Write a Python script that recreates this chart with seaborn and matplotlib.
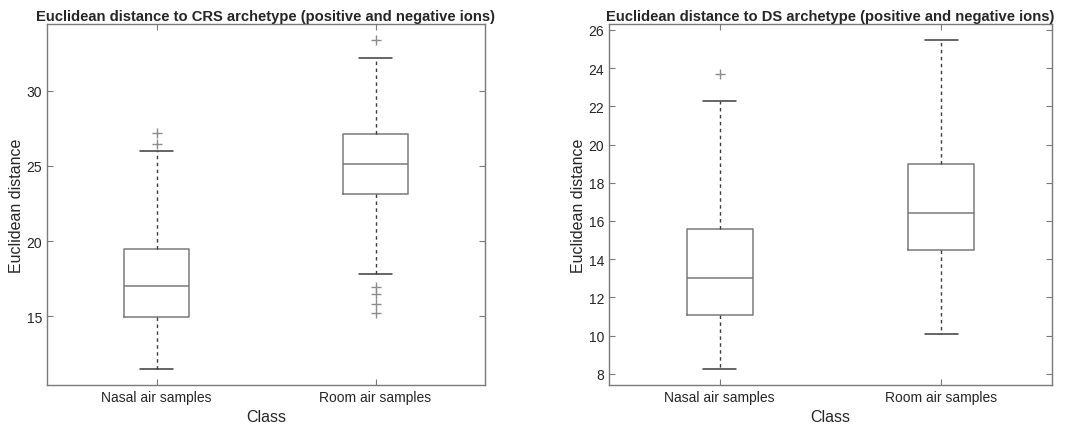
import numpy as np
import pandas as pd
import matplotlib
matplotlib.use("Agg")
import matplotlib.pyplot as plt
import seaborn as sns

# Box statistics (Nasal, Room)
classes = ["Nasal air samples", "Room air samples"]

crs_whisker_lo = [11.52, 17.78]
crs_q1 = [14.95, 23.10]
crs_median = [16.99, 25.09]
crs_q3 = [19.47, 27.15]
crs_whisker_hi = [25.99, 32.15]
crs_outliers = [[26.44, 27.20], [33.35, 16.95, 16.50, 15.82, 15.24]]

ds_whisker_lo = [8.26, 10.07]
ds_q1 = [11.05, 14.48]
ds_median = [13.03, 16.42]
ds_q3 = [15.56, 18.97]
ds_whisker_hi = [22.27, 25.46]
ds_outliers = [[23.71], []]

grey = "#7a7a7a"
dark = "#3c3c3c"


def sample_for_box(lo, q1, med, q3, hi, outliers):
    # values arranged so the quartiles / whiskers land on the read stats
    low = sorted(v for v in outliers if v < q1)
    high = sorted(v for v in outliers if v > q3)
    k = max(len(low), len(high)) + 1
    vals = list(low) + [lo] + [q1] * (k - len(low))
    vals += [med] * k + [q3] * k
    vals += [hi] * (k - len(high)) + list(high)
    return vals


def build_frame(lo, q1, med, q3, hi, outl):
    rows = []
    for i, c in enumerate(classes):
        for v in sample_for_box(lo[i], q1[i], med[i], q3[i], hi[i], outl[i]):
            rows.append({"Class": c, "Euclidean distance": v})
    return pd.DataFrame(rows)


crs_df = build_frame(crs_whisker_lo, crs_q1, crs_median, crs_q3, crs_whisker_hi, crs_outliers)
ds_df = build_frame(ds_whisker_lo, ds_q1, ds_median, ds_q3, ds_whisker_hi, ds_outliers)

sns.set_style("white")
plt.rcParams["font.family"] = ["Liberation Sans", "DejaVu Sans"]

fig = plt.figure(figsize=(10.85, 4.27), dpi=100)
ax1 = fig.add_axes([47 / 1085, 1 - 386 / 427, 438 / 1085, 361 / 427])
ax2 = fig.add_axes([609 / 1085, 1 - 386 / 427, 443 / 1085, 361 / 427])

panels = [
    (ax1, crs_df, "Euclidean distance to CRS archetype (positive and negative ions)",
     (10.43, 34.43), [15, 20, 25, 30]),
    (ax2, ds_df, "Euclidean distance to DS archetype (positive and negative ions)",
     (7.41, 26.31), list(range(8, 27, 2))),
]

for ax, df, title, ylim, yticks in panels:
    sns.boxplot(
        data=df, x="Class", y="Euclidean distance", ax=ax,
        width=0.3, whis=1.5, fill=False, color=grey,
        boxprops=dict(color=grey, linewidth=1.1),
        medianprops=dict(color=grey, linewidth=1.1),
        whiskerprops=dict(color=dark, linewidth=1.0, linestyle=(0, (2.5, 2.5))),
        capprops=dict(color=dark, linewidth=1.1),
        flierprops=dict(marker="+", markersize=7, markeredgecolor="#8c8c8c",
                        markeredgewidth=1.0, linestyle="none"),
    )
    ax.set_xlim(-0.5, 1.5)
    ax.set_ylim(*ylim)
    ax.set_yticks(yticks)
    ax.set_title(title, fontsize=10.6, fontweight="bold", pad=3)
    ax.set_xlabel("Class", fontsize=11.5, labelpad=4)
    ax.set_ylabel("Euclidean distance", fontsize=11.5, labelpad=2)
    ax.tick_params(axis="both", which="both", direction="in", length=4,
                   color=grey, labelsize=10, top=True, right=True,
                   bottom=True, left=True, labelcolor="#262626")
    for s in ax.spines.values():
        s.set_color(grey)
        s.set_linewidth(1.0)

fig.savefig("out.png", dpi=100)
